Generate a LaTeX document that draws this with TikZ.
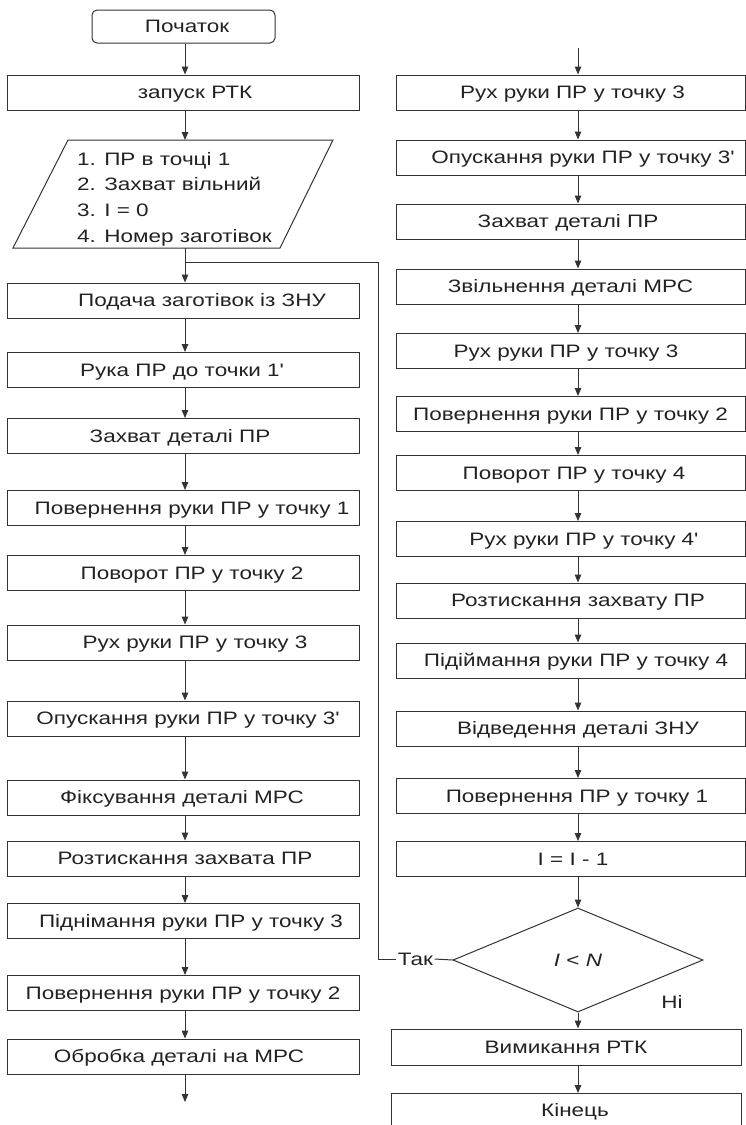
\documentclass[tikz,border=0pt]{standalone}
\usepackage{fontspec}
\setmainfont{Liberation Sans}[FakeStretch=1.25, Ligatures=TeXOff]
\usetikzlibrary{arrows.meta,shapes.geometric}
\definecolor{ln}{HTML}{333333}
\definecolor{tx}{HTML}{222222}
\newcommand\sh[2]{\kern#1pt\hbox to 0pt{\hss#2\hss}\kern-#1pt}
\tikzset{
  lbl/.style={text=tx, font=\fontsize{18}{22}\selectfont, inner sep=0pt},
  box/.style={lbl, draw=ln, line width=1pt, minimum height=35pt, text height=12.9pt, text depth=0pt},
  lbox/.style={box, minimum width=352pt},
  rbox/.style={box, minimum width=349pt},
  link/.style={draw=ln, line width=1pt},
  arr/.style={link, -{Triangle[length=8pt,width=6.5pt]}}
}
\begin{document}
\begin{tikzpicture}[x=1pt,y=-1pt]
\useasboundingbox (0,0) rectangle (746,1125);
\clip (0,0) rectangle (746,1125);
\coordinate (cl) at (185,0);
\coordinate (cr) at (578,0);
% ---- left column ----
\node[box, rounded corners=5pt, minimum width=183pt, minimum height=33pt] (start) at (183.5,26.5) {\sh{3.5}{Початок}};
\node[lbox] (L0) at (183,92.5) {\sh{12}{запуск РТК}};
\draw[link] (68,140) -- (333,140) -- (280,248) -- (13,248) -- cycle;
\node[lbl, anchor=north west, align=left, font=\fontsize{18}{25.7}\selectfont] (para) at (77,151.8)
  {1. ПР в точці 1\\2. Захват вільний\\3. I = 0\\4. Номер заготівок};
\coordinate (ptop) at (185,140);
\coordinate (pbot) at (185,248);
\coordinate (br) at (185,262);
\coordinate (lp) at (378,262);
\node[lbox] (L1) at (183,300.5) {\sh{19}{Подача заготівок із ЗНУ}};
\node[lbox] (L2) at (183,370) {\sh{-1}{Рука ПР до точки 1'}};
\node[lbox] (L3) at (183,436) {\sh{-3}{Захват деталі ПР}};
\node[lbox] (L4) at (183,508) {\sh{9}{Повернення руки ПР у точку 1}};
\node[lbox] (L5) at (183,573) {\sh{9}{Поворот ПР у точку 2}};
\node[lbox] (L6) at (183,642.5) {\sh{12}{Рух руки ПР у точку 3}};
\node[lbox] (L7) at (183,718.5) {\sh{5}{Опускання руки ПР у точку 3'}};
\node[lbox] (L8) at (183,797.5) {\sh{-1}{Фіксування деталі МРС}};
\node[lbox] (L9) at (183,858.5) {\sh{2}{Розтискання захвата ПР}};
\node[lbox] (L10) at (183,921) {\sh{8}{Піднімання руки ПР у точку 3}};
\node[lbox] (L11) at (183,993) {\sh{0}{Повернення руки ПР у точку 2}};
\node[lbox] (L12) at (183,1056.5) {\sh{-4}{Обробка деталі на МРС}};
\coordinate (lend) at (185,1102);
% ---- right column ----
\coordinate (rtop) at (578,48);
\node[rbox] (R1) at (570.5,92.5) {\sh{2}{Рух руки ПР у точку 3}};
\node[rbox] (R2) at (570.5,157.5) {\sh{12.5}{Опускання руки ПР у точку 3'}};
\node[rbox] (R3) at (570.5,221.5) {\sh{-2.5}{Захват деталі ПР}};
\node[rbox] (R4) at (570.5,286.5) {\sh{0}{Звільнення деталі МРС}};
\node[rbox] (R5) at (570.5,351) {\sh{-4.5}{Рух руки ПР у точку 3}};
\node[rbox] (R6) at (570.5,414) {\sh{0}{Повернення руки ПР у точку 2}};
\node[rbox] (R7) at (570.5,473) {\sh{3.5}{Поворот ПР у точку 4}};
\node[rbox] (R8) at (570.5,539) {\sh{13.5}{Рух руки ПР у точку 4'}};
\node[rbox] (R9) at (570.5,600.5) {\sh{7.5}{Розтискання захвату ПР}};
\node[rbox] (R10) at (570.5,660.5) {\sh{5.5}{Підіймання руки ПР у точку 4}};
\node[rbox] (R11) at (570.5,728.5) {\sh{7.5}{Відведення деталі ЗНУ}};
\node[rbox] (R12) at (570.5,796) {\sh{6.5}{Повернення ПР у точку 1}};
\node[rbox] (R13) at (570.5,859) {\sh{2.5}{I = I - 1}};
\node[lbl, draw=ln, line width=1pt, shape=diamond, minimum width=250pt, minimum height=104pt] (D) at (578,960) {\textit{I} < \textit{N}};
\node[lbl] (tak) at (415.5,959) {Так};
\node[lbl] (ni) at (672,1002) {Ні};
\node[box, minimum width=350pt, minimum height=36pt] (R14) at (566,1047) {\sh{0}{Вимикання РТК}};
\node[box, minimum width=350pt, minimum height=34pt] (R15) at (566,1110.5) {\sh{9}{Кінець}};
% ---- connectors ----
\draw[arr] (start.south -| cl) -- (L0.north -| cl);
\draw[arr] (L0.south -| cl) -- (ptop);
\draw[arr] (pbot) -- (L1.north -| cl);
\foreach \a/\b in {L1/L2,L2/L3,L3/L4,L4/L5,L5/L6,L6/L7,L7/L8,L8/L9,L9/L10,L10/L11,L11/L12}
  \draw[arr] (\a.south -| cl) -- (\b.north -| cl);
\draw[arr] (L12.south -| cl) -- (lend);
\draw[arr] (rtop) -- (R1.north -| cr);
\foreach \a/\b in {R1/R2,R2/R3,R3/R4,R4/R5,R5/R6,R6/R7,R7/R8,R8/R9,R9/R10,R10/R11,R11/R12,R12/R13}
  \draw[arr] (\a.south -| cr) -- (\b.north -| cr);
\draw[arr] (R13.south -| cr) -- (D.north);
\draw[arr] (D.south) -- (R14.north -| cr);
\draw[arr] (R14.south -| cr) -- (R15.north -| cr);
\draw[link] (D.west) -- ([xshift=1.5pt]tak.east);
\draw[link] ([xshift=-1.5pt]tak.west) -| (lp) -- (br);
\end{tikzpicture}
\end{document}
